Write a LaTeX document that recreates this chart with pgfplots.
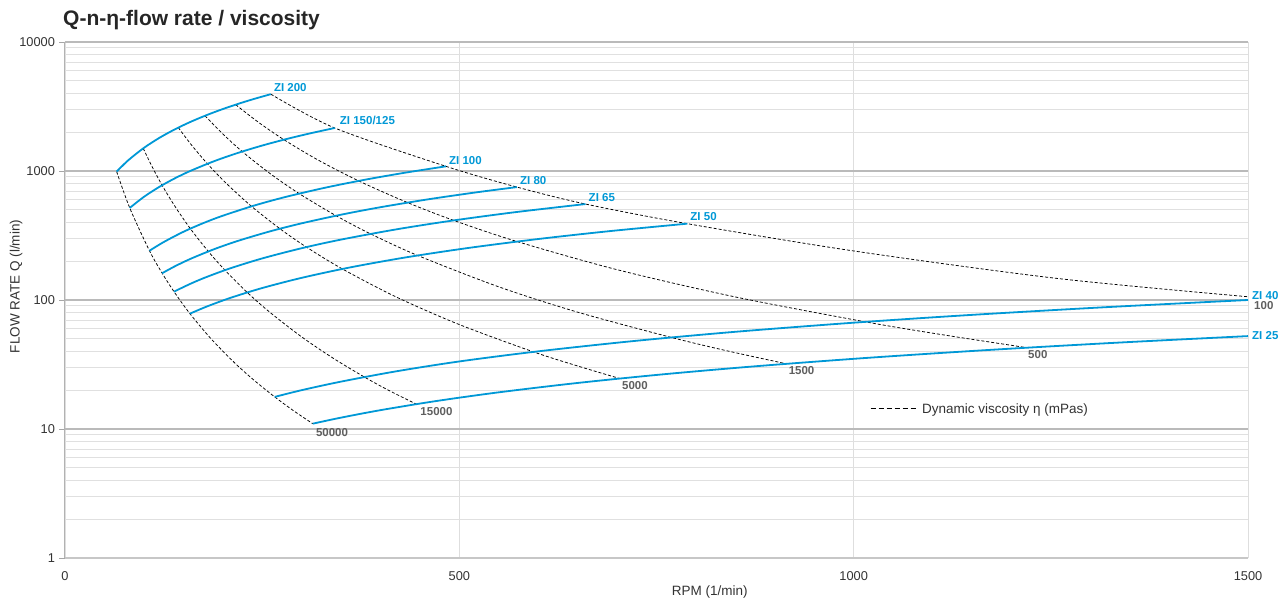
\documentclass[border=0pt]{standalone}
\usepackage{pgfplots}
\pgfplotsset{compat=1.18}
\usepackage{fontspec}
\setmainfont{Liberation Sans}
\definecolor{zblue}{RGB}{0,152,214}
\definecolor{lblgray}{RGB}{95,95,95}
\definecolor{txtgray}{RGB}{50,50,50}
\tikzset{
  vis/.style={black, line width=0.75pt, dash pattern=on 3pt off 2pt, smooth},
  zi/.style={zblue, line width=1.8pt, smooth},
  zl/.style={font=\bfseries\fontsize{11.5}{13}\selectfont, text=zblue, inner sep=0pt, anchor=base west},
  vl/.style={font=\bfseries\fontsize{11.5}{13}\selectfont, text=lblgray, inner sep=0pt, anchor=base west},
}
\begin{document}
\begin{tikzpicture}
\useasboundingbox (-65pt,-45pt) rectangle (1216pt,558pt);
\begin{axis}[
  at={(0pt,0pt)}, anchor=south west,
  scale only axis, width=1183pt, height=516pt,
  clip mode=individual,
  xmin=0, xmax=1500, ymode=log, ymin=1, ymax=10000,
  xtick={0,500,1000,1500}, xticklabels={0,500,1000,1500},
  ytick={1,10,100,1000,10000}, yticklabels={1,10,100,1000,10000},
  minor ytick={2,3,4,5,6,7,8,9,20,30,40,50,60,70,80,90,200,300,400,500,600,700,800,900,2000,3000,4000,5000,6000,7000,8000,9000},
  xmajorgrids, ymajorgrids, yminorgrids,
  major x grid style={draw=black!13, line width=0.9pt},
  major y grid style={draw=black!27, line width=1.2pt},
  minor y grid style={draw=black!12, line width=0.9pt},
  axis x line*=bottom, axis y line*=left,
  x axis line style={-, draw=black!22, line width=2.4pt},
  y axis line style={-, draw=black!30, line width=1pt},
  tick align=outside, major tick length=5.5pt,
  xtick style={draw=none},
  ytick style={draw=black!35, line width=0.8pt},
  minor y tick style={draw=none},
  tick label style={font=\fontsize{12.8}{15}\selectfont, text=txtgray},
  yticklabel style={xshift=-1pt},
  xticklabel style={yshift=-5pt},
  xlabel={RPM (1/min)}, ylabel={FLOW RATE Q (l/min)},
  label style={font=\fontsize{13.5}{16}\selectfont, text=txtgray},
  xlabel style={at={(axis description cs:0.545,-0.0659)}, anchor=center},
  ylabel style={at={(axis description cs:-0.0414,0.526)}, anchor=center},
  legend style={at={(axis description cs:0.6805,0.289)}, anchor=west, draw=none, fill=none, inner sep=0pt, font=\fontsize{13.5}{16}\selectfont, text=txtgray, /tikz/every odd column/.append style={column sep=4pt}},
  legend image code/.code={\draw[#1, line width=1pt, dash pattern=on 5pt off 3pt] (0pt,0pt) -- (45pt,0pt);},
]
% viscosity lines (mPas)
\addplot[vis] coordinates {(65.5,989) (82.1,517.2) (107.1,241.0) (123.2,161.4) (138.2,116.1) (158.4,78.4) (185,50.2) (215,32.6) (240,23.8) (265.9,17.74) (290,13.83) (314.2,11.0)};
\addlegendentry{Dynamic viscosity η (mPas)}
\addplot[vis, forget plot] coordinates {(99.2,1498) (110,1094) (123.1,775.7) (140,525.6) (158.9,357.5) (181.7,238.0) (202.8,170.4) (231.1,114.4) (260,80.1) (300,51.8) (340,35.4) (379.6,25.3) (410,20.0) (445.4,15.6)};
\addplot[vis, forget plot] coordinates {(143.7,2170) (160,1602) (180.6,1137.5) (205,796.6) (236.5,532.2) (272.5,357) (306.1,257.1) (351.7,174.1) (420,105.5) (500,64.5) (594.1,39.6) (650,30.8) (703.6,24.6)};
\addplot[vis, forget plot] coordinates {(177.5,2680) (200,1942) (224.7,1415.6) (260,956) (296.9,668) (343.7,450.2) (387.5,325.5) (447.2,221.4) (550,126.5) (650,80.5) (768.6,51.3) (840,40.3) (914.9,32.0)};
\addplot[vis, forget plot] coordinates {(216.4,3268) (245,2393) (277.6,1749) (320,1225) (372.4,837.9) (434.4,569) (492.9,414) (573.3,283.8) (700,171.8) (850,105.6) (1014.9,67.7) (1110,54.1) (1219.8,42.7)};
\addplot[vis, forget plot] coordinates {(261,3941) (342,2155) (483,1087) (573,750.6) (660,554.4) (789,390.6) (1000,240) (1258,147) (1500,106)};
% pump lines
\addplot[zi, forget plot] coordinates {(65.5,989) (80,1208) (100,1510) (120,1812) (140,2114) (160,2416) (180,2718) (200,3020) (220,3322) (240,3624) (261,3941)};
\addplot[zi, forget plot] coordinates {(82.1,517.2) (100,630) (120,756) (140,882) (160,1008) (190,1197) (220,1386) (250,1575) (280,1764) (310,1953) (342,2155)};
\addplot[zi, forget plot] coordinates {(107.1,241.0) (125,281) (150,337.5) (175,393.8) (200,450) (240,540) (280,630) (330,742.5) (380,855) (430,967.5) (483,1087)};
\addplot[zi, forget plot] coordinates {(123.2,161.4) (140,183.4) (160,209.6) (190,248.9) (220,288.2) (260,340.6) (300,393) (350,458.5) (400,524) (460,602.6) (520,681.2) (573,750.6)};
\addplot[zi, forget plot] coordinates {(138.2,116.1) (160,134.4) (180,151.2) (210,176.4) (250,210) (300,252) (350,294) (420,352.8) (490,411.6) (570,478.8) (660,554.4)};
\addplot[zi, forget plot] coordinates {(158.4,78.4) (180,89.1) (210,104) (250,123.8) (300,148.5) (360,178.2) (430,212.9) (510,252.5) (600,297) (690,341.6) (789,390.6)};
\addplot[zi, forget plot] coordinates {(265.9,17.74) (300,20) (350,23.3) (420,28) (500,33.4) (600,40) (720,48) (850,56.7) (1000,66.7) (1150,76.7) (1320,88) (1500,100)};
\addplot[zi, forget plot] coordinates {(314.2,11.0) (350,12.25) (400,14) (470,16.45) (550,19.25) (650,22.75) (760,26.6) (880,30.8) (1020,35.7) (1170,40.95) (1330,46.55) (1500,52.5)};
% labels
\node[zl, xshift=3pt, yshift=3pt] at (axis cs:261,3941) {ZI 200};
\node[zl, xshift=5pt, yshift=3pt] at (axis cs:342,2155) {ZI 150/125};
\node[zl, xshift=3pt, yshift=2pt] at (axis cs:483,1087) {ZI 100};
\node[zl, xshift=3pt, yshift=3pt] at (axis cs:573,750.6) {ZI 80};
\node[zl, xshift=3pt, yshift=3pt] at (axis cs:660,554.4) {ZI 65};
\node[zl, xshift=3pt, yshift=3pt] at (axis cs:789,390.6) {ZI 50};
\node[zl, xshift=4pt, yshift=1pt] at (axis cs:1500,100) {ZI 40};
\node[zl, xshift=4pt, yshift=-3pt] at (axis cs:1500,52.5) {ZI 25};
\node[vl, xshift=6pt, yshift=-12.5pt] at (axis cs:1500,106) {100};
\node[vl, xshift=1pt, yshift=-11pt] at (axis cs:1219.8,42.7) {500};
\node[vl, xshift=2pt, yshift=-11pt] at (axis cs:914.9,32.0) {1500};
\node[vl, xshift=2pt, yshift=-11pt] at (axis cs:703.6,24.6) {5000};
\node[vl, xshift=4pt, yshift=-11pt] at (axis cs:445.4,15.6) {15000};
\node[vl, xshift=3pt, yshift=-13pt] at (axis cs:314.2,11.0) {50000};
\end{axis}
\node[anchor=base west, inner sep=0pt, font=\bfseries\fontsize{21}{24}\selectfont, text=black!85] at (-2pt,532pt) {Q-n-η-flow rate / viscosity};
\end{tikzpicture}
\end{document}
